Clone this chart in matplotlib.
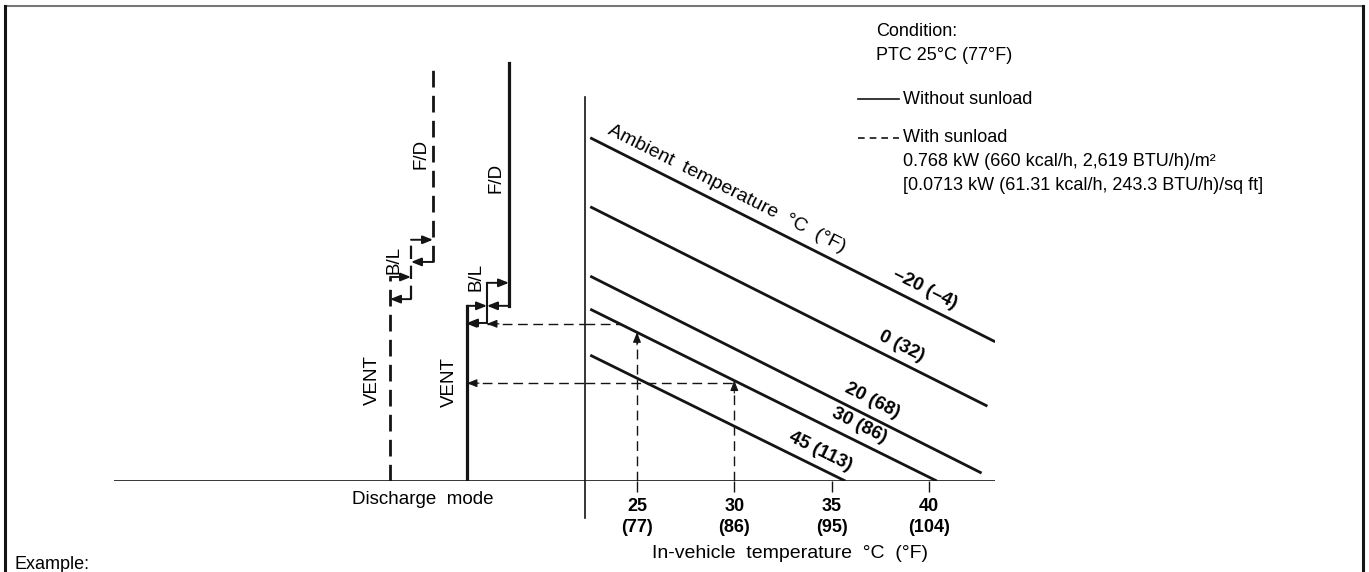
import matplotlib.pyplot as plt
from matplotlib.lines import Line2D
import numpy as np

plt.rcParams["font.family"] = ["Liberation Sans", "DejaVu Sans"]

# ambient temperature lines: in-vehicle temp (°C) -> discharge level (0-100)
ambient_labels = ["\u201320 (\u20134)", "0 (32)", "20 (68)", "30 (86)", "45 (113)"]
ambient_t_start = [22.6, 22.6, 22.6, 22.6, 22.6]
ambient_t_end = [43.4, 43.0, 42.7, 40.4, 35.7]
ambient_y_start = [82.1, 65.6, 49.0, 41.1, 30.1]
ambient_y_end = [33.3, 17.9, 1.9, 0.0, 0.0]
ambient_label_t = [39.8, 38.6, 37.1, 36.4, 34.4]

temp_ticks = [25, 30, 35, 40]
temp_ticks_f = [77, 86, 95, 104]

# discharge level where mode switches: [VENT->B/L, B/L->F/D]
nosun_up = [41.9, 47.4]
nosun_down = [37.8, 41.9]
sun_up = [48.8, 57.7]
sun_down = [43.5, 52.4]
mode_top = 100.0

# example (ambient 30 °C)
example_t = [25, 30]
example_level = [37.6, 23.4]

ink = "#141414"
W, H = 1369, 572


def fx(x):
    return x / W


def fy(y):
    return 1 - y / H


def head(ax, x, y, dx, dy, size=11):
    ax.annotate("", xy=(x, y), xytext=(x - dx, y - dy),
                arrowprops=dict(arrowstyle="-|>,head_length=0.55,head_width=0.22",
                                color=ink, lw=0.8, shrinkA=0, shrinkB=0,
                                mutation_scale=size),
                annotation_clip=False)


def step_arrow(ax, x0, x1, y, lw=1.4):
    ax.annotate("", xy=(x1, y), xytext=(x0, y),
                arrowprops=dict(arrowstyle="-|>,head_length=0.55,head_width=0.22",
                                color=ink, lw=lw, shrinkA=0, shrinkB=0,
                                mutation_scale=11),
                annotation_clip=False)


fig = plt.figure(figsize=(W / 100, H / 100), dpi=100)
ax_t = fig.add_axes([fx(585), fy(481), fx(995) - fx(585), fy(60) - fy(481)])
ax_m = fig.add_axes([fx(114), fy(481), fx(585) - fx(114), fy(60) - fy(481)])

y_top = 100.7
for ax in (ax_t, ax_m):
    ax.set_ylim(0, y_top)
    for s in ax.spines.values():
        s.set_visible(False)
    ax.set_yticks([])
    ax.patch.set_visible(False)
    ax.axhline(0, color=ink, lw=1.2)
ax_t.set_xlim(22.33, 43.39)
ax_m.set_xlim(0, 23.55)
ax_m.set_xticks([])

# temperature axis
ax_t.set_xticks(temp_ticks, labels=[f"{c}\n({f})" for c, f in zip(temp_ticks, temp_ticks_f)])
for lab in ax_t.get_xticklabels():
    lab.set_fontweight("bold")
    lab.set_fontsize(13)
    lab.set_linespacing(1.35)
ax_t.tick_params(axis="x", direction="out", length=8, width=1, color=ink, pad=4)
ax_t.set_xlabel("In-vehicle  temperature  °C  (°F)", fontsize=14, labelpad=6)
x0 = ax_t.get_xlim()[0]
ax_t.plot([x0, x0], [-8.9, 91.9], color=ink, lw=1.2, clip_on=False)

# ambient lines
for lab, ts, te, ys, ye, lt in zip(ambient_labels, ambient_t_start, ambient_t_end,
                                   ambient_y_start, ambient_y_end, ambient_label_t):
    ax_t.plot([ts, te], [ys, ye], color=ink, lw=2.0, solid_capstyle="butt")
    p = ax_t.transData.transform([(ts, ys), (te, ye)])
    ang = np.degrees(np.arctan2(p[1, 1] - p[0, 1], p[1, 0] - p[0, 0]))
    yl = np.interp(lt, [ts, te], [ys, ye])
    ax_t.annotate(lab, xy=(lt, yl), xytext=(0, 17), textcoords="offset pixels",
                  rotation=ang, rotation_mode="anchor", ha="center", va="center",
                  fontweight="bold", fontsize=13.5)
    if lab.startswith("\u2013"):
        yt = np.interp(29.6, [ts, te], [ys, ye])
        ax_t.annotate("Ambient  temperature  °C  (°F)", xy=(29.6, yt), xytext=(0, 18),
                      textcoords="offset pixels", rotation=ang, rotation_mode="anchor",
                      ha="center", va="center", fontsize=14)

# discharge mode steps
mode_x = {"sun": [13.8, 14.85, 15.95], "nosun": [17.65, 18.65, 19.75]}
label_y = {"sun": [24.2, 52.9, 78.2], "nosun": [23.7, 48.8, 72.5]}
label_dx = {"sun": [-0.9, -0.85, -0.6], "nosun": [-0.9, -0.55, -0.65]}


def draw_modes(key, up, down, dashed):
    vent, bl, fd = mode_x[key]
    ls = dict(linestyle=(0, (6, 3)), lw=2.0) if dashed else dict(lw=2.3)
    ax_m.plot([vent, vent], [0, up[0]], color=ink, **ls)
    ax_m.plot([fd, fd], [down[1], mode_top], color=ink, **ls)
    bls = dict(linestyle=(0, (6, 3)), lw=1.6) if dashed else dict(lw=1.5)
    ax_m.plot([bl, bl], [down[0], up[1]], color=ink, **bls)
    step_arrow(ax_m, vent, bl, up[0])
    step_arrow(ax_m, bl, vent, down[0])
    step_arrow(ax_m, bl, fd, up[1])
    step_arrow(ax_m, fd, bl, down[1])
    for name, x, y, dx in zip(["VENT", "B/L", "F/D"], mode_x[key], label_y[key], label_dx[key]):
        ax_m.text(x + dx, y, name, rotation=90, ha="center", va="center", fontsize=13.5)


draw_modes("sun", sun_up, sun_down, True)
draw_modes("nosun", nosun_up, nosun_down, False)

# example arrows along the 30 °C ambient line
dash_thin = dict(color=ink, lw=1.0, linestyle=(0, (7, 4)))
ts30, te30, ys30, ye30 = ambient_t_start[3], ambient_t_end[3], ambient_y_start[3], ambient_y_end[3]
vent, bl, fd = mode_x["nosun"]
for t, lvl in zip(example_t, example_level):
    y_hit = np.interp(t, [ts30, te30], [ys30, ye30])
    ax_t.plot([t, t], [0, y_hit], **dash_thin)
    head(ax_t, t, y_hit, 0, 3)
    t_h = np.interp(lvl, [ye30, ys30], [te30, ts30])
    ax_t.plot([x0, min(t, t_h)], [lvl, lvl], **dash_thin)
    in_band = nosun_down[0] - 1 <= lvl <= nosun_up[0]
    x_end = bl if in_band else vent
    ax_m.plot([x_end, ax_m.get_xlim()[1]], [lvl, lvl], **dash_thin)
    head(ax_m, vent, lvl, -0.6, 0)
    if in_band:
        head(ax_m, bl, lvl, -0.6, 0)

fig.text(fx(423), fy(500), "Discharge  mode", ha="center", va="center", fontsize=13.5)

# condition block
fs = 13
fig.text(fx(876), fy(32), "Condition:", ha="left", va="center", fontsize=fs)
fig.text(fx(876), fy(55), "PTC 25°C (77°F)", ha="left", va="center", fontsize=fs)
fig.add_artist(Line2D([fx(858), fx(899)], [fy(99), fy(99)], color=ink, lw=1.2))
fig.text(fx(903), fy(99), "Without sunload", ha="left", va="center", fontsize=fs)
fig.add_artist(Line2D([fx(858), fx(899)], [fy(138), fy(138)], color=ink, lw=1.2,
                      linestyle=(0, (4, 3))))
fig.text(fx(903), fy(138), "With sunload", ha="left", va="center", fontsize=fs)
fig.text(fx(903), fy(161), "0.768 kW (660 kcal/h, 2,619 BTU/h)/m²", ha="left", va="center",
         fontsize=fs)
fig.text(fx(903), fy(185), "[0.0713 kW (61.31 kcal/h, 243.3 BTU/h)/sq ft]", ha="left",
         va="center", fontsize=fs)

fig.text(fx(15), fy(569), "Example:", ha="left", va="baseline", fontsize=13)

# page frame
fig.add_artist(Line2D([fx(5), fx(1363)], [fy(6), fy(6)], color="#777777", lw=1.5))
fig.add_artist(Line2D([fx(5), fx(5)], [fy(6), 0], color=ink, lw=2.2))
fig.add_artist(Line2D([fx(1363), fx(1363)], [fy(6), 0], color=ink, lw=2.2))

fig.savefig("out.png", dpi=100)
plt.close(fig)
